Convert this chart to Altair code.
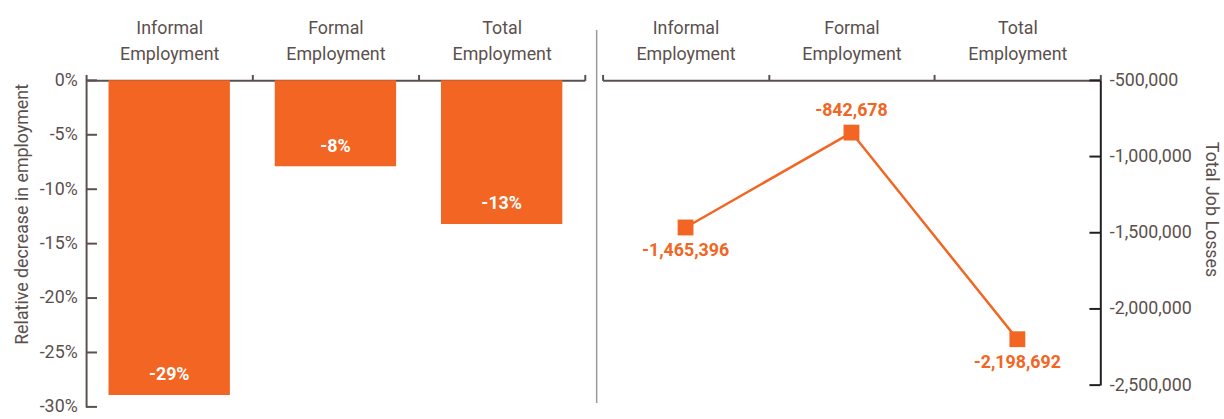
import altair as alt
import pandas as pd

categories = ["Informal Employment", "Formal Employment", "Total Employment"]
relative_change = [-0.289, -0.079, -0.132]
job_losses = [-1465396, -842678, -2198692]
label_side = ["below", "above", "below"]
pct_ticks = [0, -0.05, -0.10, -0.15, -0.20, -0.25, -0.30]
loss_ticks = [-500000, -1000000, -1500000, -2000000, -2500000]

ORANGE = "#F26522"
TEXT = "#5B504D"
DARK = "#231F20"
FONT = "Roboto"

W1, H1 = 504, 330
W2, H2 = 503, 308

df = pd.DataFrame({"cat": categories, "rel": relative_change, "loss": job_losses, "side": label_side})
pct_df = pd.DataFrame({"rel": pct_ticks})
loss_df = pd.DataFrame({"loss": loss_ticks})
sep_df = pd.DataFrame({"k": [0]})


def x_axis():
    return alt.Axis(orient="top", title=None, labelAngle=0, grid=False,
                    labelExpr="split(datum.label, ' ')", labelLineHeight=26,
                    labelFontSize=18, labelColor=TEXT, labelFont=FONT,
                    domainColor=TEXT, domainWidth=2, tickColor=TEXT, tickWidth=2,
                    tickSize=6, tickBand="extent", labelPadding=37)


band = alt.Scale(paddingInner=0, paddingOuter=0)

# ---------- left panel: relative decrease ----------
x_bar = alt.X("cat:N", sort=categories, axis=x_axis(), scale=band)
y_pct = alt.Y("rel:Q",
              scale=alt.Scale(domain=[-0.30, 0], nice=False, zero=True),
              axis=alt.Axis(values=pct_ticks, grid=False,
                            labelExpr="(datum.value < 0 ? '-' : '') + format(abs(datum.value), '.0%')",
                            ticks=False, domainColor=TEXT, domainWidth=2,
                            labelFontSize=18, labelColor=TEXT, labelFont=FONT, labelPadding=9,
                            title="Relative decrease in employment", titleFontSize=18,
                            titleFontWeight="normal", titleColor=TEXT, titleFont=FONT,
                            titlePadding=8, titleY=135))

bars = alt.Chart(df).mark_bar(color=ORANGE, width=alt.RelativeBandSize(0.73)).encode(
    x=x_bar,
    y=y_pct,
)
bar_text = alt.Chart(df).transform_calculate(
    lab="(datum.rel < 0 ? '-' : '') + format(abs(datum.rel), '.0%')"
).mark_text(color="white", fontWeight="bold", fontSize=18, font=FONT, dy=-20).encode(
    x=x_bar,
    y="rel:Q",
    text="lab:N",
)
left_ticks = alt.Chart(pct_df).mark_rule(color=TEXT, strokeWidth=2).encode(
    y="rel:Q", x=alt.value(0), x2=alt.value(11)
)
left = alt.layer(bars, bar_text, left_ticks).properties(width=W1, height=H1)

# ---------- right panel: total job losses ----------
x_line = alt.X("cat:N", sort=categories, axis=x_axis(), scale=band, bandPosition=0.5)
y_loss = alt.Y("loss:Q",
               scale=alt.Scale(domain=[-2500000, -500000], nice=False, zero=False),
               axis=alt.Axis(orient="right", values=loss_ticks, grid=False,
                             labelExpr="(datum.value < 0 ? '-' : '') + format(abs(datum.value), ',')",
                             ticks=False, domainColor=DARK, domainWidth=2,
                             labelFontSize=18, labelColor=TEXT, labelFont=FONT, labelPadding=9,
                             title="Total Job Losses", titleFontSize=18, titleFontWeight="normal",
                             titleColor=TEXT, titleFont=FONT, titlePadding=10, titleY=130))

line = alt.Chart(df).mark_line(color=ORANGE, strokeWidth=2.5).encode(x=x_line, y=y_loss)
pts = alt.Chart(df).mark_point(shape="square", filled=True, size=256, color=ORANGE, opacity=1).encode(
    x=x_line, y="loss:Q")
lab_expr = "(datum.loss < 0 ? '-' : '') + format(abs(datum.loss), ',')"
txt_above = alt.Chart(df).transform_filter("datum.side == 'above'").transform_calculate(
    lab=lab_expr).mark_text(color=ORANGE, fontWeight="bold", fontSize=18, font=FONT, dy=-22).encode(
    x=x_line, y="loss:Q", text="lab:N")
txt_below = alt.Chart(df).transform_filter("datum.side == 'below'").transform_calculate(
    lab=lab_expr).mark_text(color=ORANGE, fontWeight="bold", fontSize=18, font=FONT, dy=24).encode(
    x=x_line, y="loss:Q", text="lab:N")
right_ticks = alt.Chart(loss_df).mark_rule(color=DARK, strokeWidth=2).encode(
    y="loss:Q", x=alt.value(W2), x2=alt.value(W2 - 11))
sep = alt.Chart(sep_df).mark_rule(color="#9A9A9A", strokeWidth=1.5).encode(
    x=alt.value(-6), y=alt.value(-51), y2=alt.value(326))

right = alt.layer(sep, line, pts, txt_above, txt_below, right_ticks).properties(width=W2, height=H2)

chart = alt.hconcat(left, right, spacing=10).properties(
    padding={"left": 13, "top": 18, "right": 5, "bottom": 0}
).configure(font=FONT).configure_view(stroke=None).configure_axis(grid=False)

chart.save("out.html", embed_options={"renderer": "svg", "actions": False})
